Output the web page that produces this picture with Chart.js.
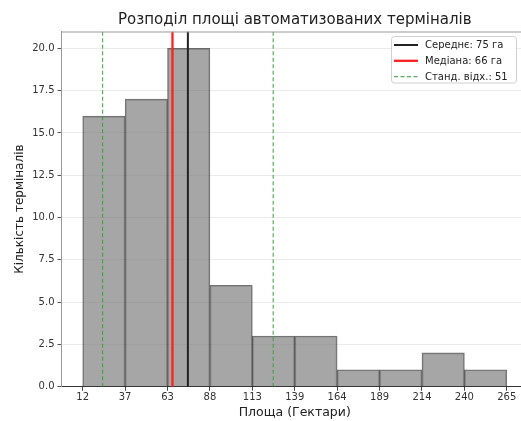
<!DOCTYPE html>
<html>
<head>
<meta charset="utf-8">
<script src="https://cdn.jsdelivr.net/npm/chart.js@4.4.1/dist/chart.umd.min.js"></script>
<style>
    html, body { margin: 0; padding: 0; background: #fff; overflow: hidden; }
    #wrap { width: 521px; height: 421px; overflow: hidden; }
</style>
</head>
<body>
<div id="wrap">
    <canvas id="hist-chart" width="540" height="421"></canvas>
</div>
<script>
// межі інтервалів гістограми (га)
const binEdges = [12.05, 37.35, 62.65, 87.95, 113.25, 138.55, 163.85, 189.15, 214.45, 239.75, 265.05];
// кількість терміналів у кожному інтервалі
const binCounts = [16, 17, 20, 6, 3, 3, 1, 1, 2, 1];
// підписи поділок осі X
const xTickLabels = ['12', '37', '63', '88', '113', '139', '164', '189', '214', '240', '265'];
// поділки осі Y
const yTicks = [0, 2.5, 5, 7.5, 10, 12.5, 15, 17.5, 20];
// статистика
const meanArea = 74.8;
const medianArea = 65.6;
const stdArea = 50.9;

const chartTitle = 'Розподіл площі автоматизованих терміналів';
const FONT = "'DejaVu Sans', sans-serif";

function histChart() {
    const ctx = document.getElementById('hist-chart').getContext('2d');

    // стовпці будуються з центрів інтервалів
    const bars = binCounts.map((c, i) => ({
        x: (binEdges[i] + binEdges[i + 1]) / 2,
        y: c
    }));

    const span = binEdges[binEdges.length - 1] - binEdges[0];
    const xMin = binEdges[0] - span * 0.05;
    const xMax = binEdges[binEdges.length - 1] + span * 0.05;
    const yMax = 21;

    const vline = (v) => [{ x: v, y: 0 }, { x: v, y: yMax }];

    const lineBase = {
        type: 'line',
        pointRadius: 0,
        fill: false,
        order: 1
    };

    const datasets = [
        Object.assign({}, lineBase, {
            label: `Середнє: ${Math.round(meanArea)} га`,
            data: vline(meanArea),
            borderColor: '#222',
            borderWidth: 2
        }),
        Object.assign({}, lineBase, {
            label: `Медіана: ${Math.round(medianArea)} га`,
            data: vline(medianArea),
            borderColor: '#ff2020',
            borderWidth: 2.3
        }),
        Object.assign({}, lineBase, {
            label: `Станд. відх.: ${Math.round(stdArea)}`,
            data: vline(meanArea - stdArea),
            borderColor: 'rgba(60,160,60,0.85)',
            borderWidth: 1.2,
            borderDash: [4, 2.5]
        }),
        Object.assign({}, lineBase, {
            label: '_std_hi',
            data: vline(meanArea + stdArea),
            borderColor: 'rgba(60,160,60,0.85)',
            borderWidth: 1.2,
            borderDash: [4, 2.5]
        }),
        {
            type: 'bar',
            label: 'hist',
            data: bars,
            backgroundColor: 'rgba(128,128,128,0.7)',
            borderColor: 'rgba(0,0,0,0.55)',
            borderWidth: 1,
            barPercentage: 1,
            categoryPercentage: 1,
            order: 10
        }
    ];

    // заголовок, верхня рамка і легенда всередині області графіка
    const decorPlugin = {
        id: 'decor',
        afterDraw(chart) {
            const c = chart.ctx;
            const a = chart.chartArea;
            c.save();

            // верхня рамка
            c.strokeStyle = '#999';
            c.lineWidth = 1;
            c.beginPath();
            c.moveTo(a.left, a.top + 0.5);
            c.lineTo(a.right, a.top + 0.5);
            c.stroke();

            // заголовок по центру осей
            c.fillStyle = '#222';
            c.font = '15px ' + FONT;
            c.textAlign = 'center';
            c.textBaseline = 'middle';
            c.fillText(chartTitle, (a.left + a.right) / 2, 20);

            // легенда
            const items = chart.data.datasets.filter(d => d.type === 'line' && !d.label.startsWith('_'));
            const bx = 391.5, by = 36.5, bw = 125, bh = 46.5;
            c.fillStyle = 'rgba(255,255,255,0.85)';
            c.strokeStyle = '#d0d0d0';
            c.lineWidth = 1;
            c.beginPath();
            c.roundRect(bx, by, bw, bh, 3);
            c.fill();
            c.stroke();

            c.font = '10px ' + FONT;
            c.textAlign = 'left';
            items.forEach((d, i) => {
                const y = 45 + i * 15.8;
                c.strokeStyle = d.borderColor;
                c.lineWidth = d.borderWidth;
                c.setLineDash(d.borderDash || []);
                c.beginPath();
                c.moveTo(394, y);
                c.lineTo(418, y);
                c.stroke();
                c.setLineDash([]);
                c.fillStyle = '#222';
                c.fillText(d.label, 425, y + 0.5);
            });
            c.restore();
        }
    };

    const options = {
        responsive: false,
        animation: false,
        layout: {
            padding: { top: 31.5, right: 12, left: 0, bottom: 0 }
        },
        plugins: {
            legend: { display: false },
            tooltip: { enabled: false },
            title: { display: false }
        },
        scales: {
            x: {
                type: 'linear',
                offset: false,
                min: xMin,
                max: xMax,
                afterBuildTicks: (scale) => {
                    scale.ticks = binEdges.map(v => ({ value: v }));
                },
                afterFit: (scale) => { scale.height = 34.3; },
                ticks: {
                    autoSkip: false,
                    maxRotation: 0,
                    padding: 1,
                    color: '#333',
                    font: { family: FONT, size: 10 },
                    callback: (value, index) => xTickLabels[index]
                },
                grid: {
                    offset: false,
                    drawOnChartArea: false,
                    tickLength: 4,
                    tickColor: '#444'
                },
                border: { color: '#333', width: 1 },
                title: {
                    display: true,
                    text: 'Площа (Гектари)',
                    color: '#222',
                    font: { family: FONT, size: 12.5 },
                    padding: { top: 0, bottom: 0.8 }
                }
            },
            y: {
                min: 0,
                max: yMax,
                afterBuildTicks: (scale) => {
                    scale.ticks = yTicks.map(v => ({ value: v }));
                },
                afterFit: (scale) => { scale.width = 61.5; },
                ticks: {
                    padding: 3,
                    color: '#333',
                    font: { family: FONT, size: 10 },
                    callback: (value) => Number(value).toFixed(1)
                },
                grid: {
                    color: 'rgba(0,0,0,0.08)',
                    tickLength: 4,
                    tickColor: '#555'
                },
                border: { color: '#999', width: 1 },
                title: {
                    display: true,
                    text: 'Кількість терміналів',
                    color: '#222',
                    font: { family: FONT, size: 12 },
                    padding: { top: 12.8, bottom: 0 }
                }
            }
        }
    };

    new Chart(ctx, {
        type: 'bar',
        data: { datasets: datasets },
        options: options,
        plugins: [decorPlugin]
    });
}

histChart();
</script>
</body>
</html>
